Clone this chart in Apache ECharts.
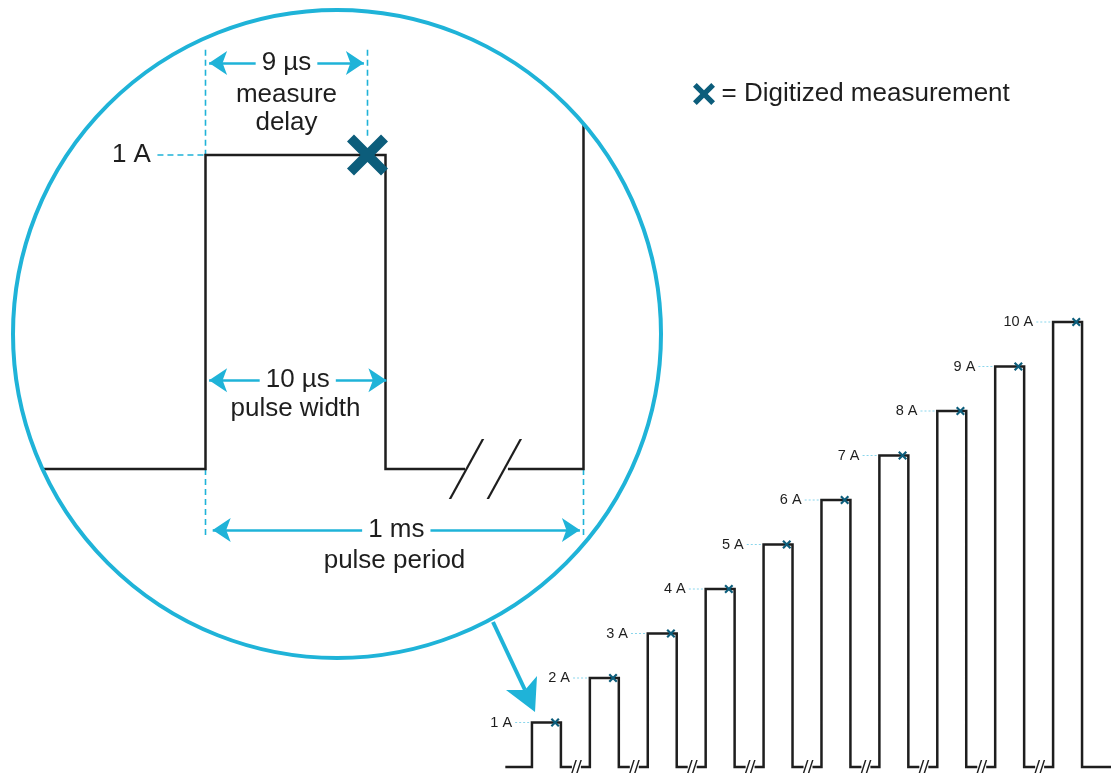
<!DOCTYPE html>
<html>
<head>
<meta charset="UTF-8"/>
<title>pulse sweep</title>
<script src="https://cdn.jsdelivr.net/npm/echarts@6/dist/echarts.min.js"></script>
<style>
    html, body { margin: 0; padding: 0; background: #fff; }
    #main { width: 1111px; height: 773px; }
</style>
</head>
<body>
<div id="main"></div>
<script>
// sweep levels, one pulse per period
var levels = [1, 2, 3, 4, 5, 6, 7, 8, 9, 10];
var levelLabels = ['1 A', '2 A', '3 A', '4 A', '5 A', '6 A', '7 A', '8 A', '9 A', '10 A'];

// zoomed pulse (x in µs, the period end is drawn shortened)
var detailLevel = 1;
var detailLabel = '1 A';
var measureDelay = 9;
var pulseWidth = 10;
var delayText = ['9 µs', 'measure\ndelay'];
var widthText = ['10 µs', 'pulse width'];
var periodText = ['1 ms', 'pulse period'];

var cyan = '#1fb3d8';
var dark = '#1e1e1e';
var teal = '#0c5d7b';
var font = '"Liberation Sans", Arial, Helvetica, sans-serif';

var crossPath = 'path://M17,0 L50,33 L83,0 L100,17 L67,50 L100,83 L83,100 L50,67 L17,100 L0,83 L33,50 L0,17 Z';
var smallBreak = 'path://M0,14 L4.5,0 L6,0 L1.5,14 Z M5,14 L9.5,0 L11,0 L6.5,14 Z';
var bigBreak = 'path://M0,60 L33,0 L35.5,0 L2.5,60 Z';

// ---- staircase ----
var stepW = 0.5, gapA = 0.69, gapB = 0.845, markAt = 0.4;
var stairLine = [[-0.46, 0]];
var stairMarks = [], stairGuides = [], stairLabels = [], stairBreaks = [];
levels.forEach(function (a, k) {
    stairLine.push([k, 0], [k, a], [k + stepW, a], [k + stepW, 0]);
    if (k < levels.length - 1) {
        stairLine.push([k + gapA, 0], [k + gapA, '-'], [k + gapB, 0]);
        stairBreaks.push([k + (gapA + gapB) / 2, 0]);
    } else {
        stairLine.push([10, 0]);
    }
    stairMarks.push([k + markAt, a]);
    stairGuides.push([k - 0.29, a], [k, a], [k, '-']);
    stairLabels.push({ value: [k - 0.3, a], label: { formatter: levelLabels[k] } });
});

// ---- zoomed pulse ----
var periodAt = 21;      // where 1 ms is drawn
var guideTop = 1.335, guideLow = -0.215;
var detailLine = [[-9.05, 0], [0, 0], [0, detailLevel], [pulseWidth, detailLevel], [pulseWidth, 0],
    [14.42, 0], [14.42, '-'], [16.8, 0], [periodAt, 0], [periodAt, 1.1]];
var detailGuides = [[0, guideTop], [0, detailLevel], [0, '-'], [0, 0], [0, guideLow], [0, '-'],
    [measureDelay, guideTop], [measureDelay, detailLevel + 0.06], [measureDelay, '-'],
    [periodAt, 0], [periodAt, guideLow], [periodAt, '-'],
    [-2.67, detailLevel], [0, detailLevel]];

function dim(x0, x1, y, txt) {
    return [{ coord: [x0, y], label: { formatter: txt } }, { coord: [x1, y] }];
}

var chart = echarts.init(document.getElementById('main'));
chart.setOption({
    animation: false,
    backgroundColor: '#fff',
    textStyle: { fontFamily: font },
    legend: {
        left: 688, top: 76, selectedMode: false,
        itemWidth: 25, itemHeight: 22,
        data: [{ name: 'Digitized measurement', icon: crossPath }],
        formatter: '= {name}',
        textStyle: { fontSize: 26, color: dark, fontFamily: font }
    },
    grid: [
        // y: 0 -> 469px, 1 -> 155px
        { left: 25.5, width: 576, top: 29.4, height: 549.5, containLabel: false },
        { left: 503, width: 608, top: 322, height: 445, containLabel: false }
    ],
    xAxis: [
        { type: 'value', gridIndex: 0, min: -10, max: 22, show: false },
        { type: 'value', gridIndex: 1, min: -0.5, max: 10, show: false }
    ],
    yAxis: [
        { type: 'value', gridIndex: 0, min: -0.35, max: 1.4, show: false },
        { type: 'value', gridIndex: 1, min: 0, max: 10, show: false }
    ],
    graphic: [
        { type: 'circle', shape: { cx: 337, cy: 334, r: 324 }, z: 10,
          style: { fill: 'none', stroke: cyan, lineWidth: 4 } },
        { type: 'polyline', shape: { points: [[493, 622], [525, 690]] }, z: 10,
          style: { stroke: cyan, lineWidth: 4, fill: 'none' } },
        { type: 'polygon', shape: { points: [[535, 712], [506, 690], [525, 690], [537, 676]] }, z: 10,
          style: { fill: cyan } }
    ],
    series: [
        {
            type: 'line', xAxisIndex: 0, yAxisIndex: 0, data: detailGuides,
            symbol: 'none', silent: true, clip: false, z: 1,
            lineStyle: { color: cyan, width: 1.6, type: [6, 4] },
            markLine: {
                silent: true, symbol: ['arrow', 'arrow'], symbolSize: 18,
                lineStyle: { color: cyan, width: 2.5, type: 'solid' },
                label: { position: 'middle', distance: 0, verticalAlign: 'middle', align: 'center',
                         fontSize: 26, color: dark, fontFamily: font,
                         backgroundColor: '#fff', padding: [2, 6] },
                emphasis: { disabled: true },
                data: [
                    dim(0.2, measureDelay - 0.2, 1.293, delayText[0]),
                    dim(0.2, pulseWidth + 0.05, 0.283, widthText[0]),
                    dim(0.4, periodAt - 0.2, -0.194, periodText[0])
                ]
            }
        },
        {
            type: 'line', xAxisIndex: 0, yAxisIndex: 0, data: detailLine,
            symbol: 'none', silent: true, clip: false, z: 3,
            lineStyle: { color: dark, width: 2.5, join: 'miter', cap: 'butt' }
        },
        {
            type: 'scatter', xAxisIndex: 0, yAxisIndex: 0, silent: true, clip: false, z: 3,
            symbol: bigBreak, symbolSize: [35.5, 60], itemStyle: { color: dark, opacity: 1 },
            data: [[14.5, 0], [16.6, 0]]
        },
        {
            type: 'scatter', xAxisIndex: 0, yAxisIndex: 0, silent: true, clip: false, z: 4,
            symbolSize: 1, itemStyle: { color: 'rgba(0,0,0,0)', opacity: 1 },
            label: { show: true, position: 'inside', fontSize: 26, lineHeight: 28, color: dark, fontFamily: font },
            data: [
                { value: [-2.67, detailLevel], label: { position: 'left', distance: 6, formatter: detailLabel } },
                { value: [measureDelay / 2, 1.146], label: { formatter: delayText[1] } },
                { value: [pulseWidth / 2, 0.191], label: { formatter: widthText[1] } },
                { value: [periodAt / 2, -0.293], label: { formatter: periodText[1] } }
            ]
        },
        {
            name: 'Digitized measurement', type: 'scatter', xAxisIndex: 0, yAxisIndex: 0,
            silent: true, clip: false, z: 5, symbol: crossPath, symbolSize: 41,
            itemStyle: { color: teal, opacity: 1 }, data: [[measureDelay, detailLevel]]
        },
        // staircase
        {
            type: 'line', xAxisIndex: 1, yAxisIndex: 1, data: stairGuides,
            symbol: 'none', silent: true, clip: false, z: 1,
            lineStyle: { color: '#8ad6ec', width: 1, type: [2, 2] }
        },
        {
            type: 'line', xAxisIndex: 1, yAxisIndex: 1, data: stairLine,
            symbol: 'none', silent: true, clip: false, z: 3,
            lineStyle: { color: dark, width: 2.5, join: 'miter', cap: 'butt' }
        },
        {
            type: 'scatter', xAxisIndex: 1, yAxisIndex: 1, silent: true, clip: false, z: 3,
            symbol: smallBreak, symbolSize: [11, 14], itemStyle: { color: dark, opacity: 1 },
            data: stairBreaks
        },
        {
            type: 'scatter', xAxisIndex: 1, yAxisIndex: 1, silent: true, clip: false, z: 4,
            symbolSize: 1, itemStyle: { color: 'rgba(0,0,0,0)', opacity: 1 },
            label: { show: true, position: 'left', distance: 2, fontSize: 14.5, color: dark, fontFamily: font },
            data: stairLabels
        },
        {
            name: 'Digitized measurement', type: 'scatter', xAxisIndex: 1, yAxisIndex: 1,
            silent: true, clip: false, z: 5, symbol: crossPath, symbolSize: 9,
            itemStyle: { color: teal, opacity: 1 }, data: stairMarks
        }
    ]
});
</script>
</body>
</html>
